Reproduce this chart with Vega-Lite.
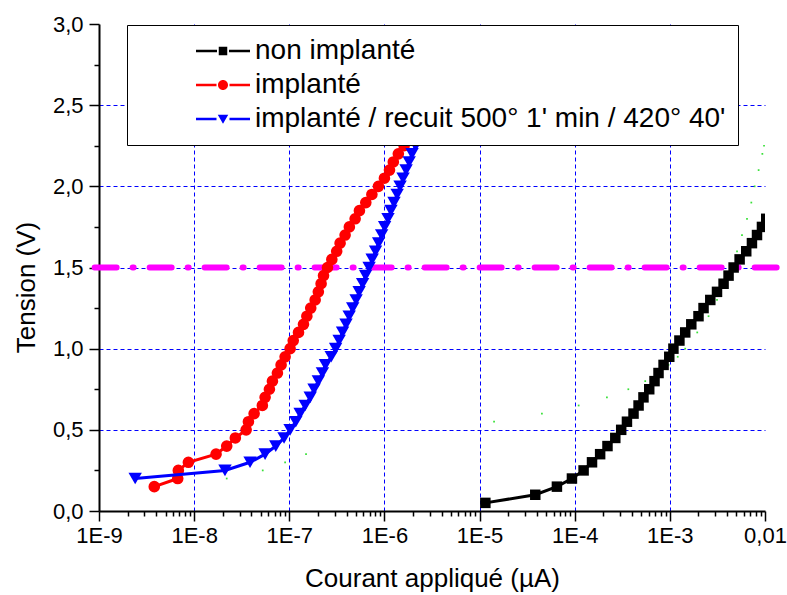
{
  "$schema": "https://vega.github.io/schema/vega-lite/v6.json",
  "autosize": {"type": "none"},
  "padding": {"left": 99, "top": 24, "right": 22, "bottom": 84},
  "width": 666,
  "height": 487,
  "background": "white",
  "config": {"font": "Liberation Sans", "view": {"stroke": null}},
  "datasets": {
    "main": [
      {"s": "non implanté", "x": 1.15e-5, "y": 0.05},
      {"s": "non implanté", "x": 3.85e-5, "y": 0.10},
      {"s": "non implanté", "x": 6.5e-5, "y": 0.15},
      {"s": "non implanté", "x": 9.35e-5, "y": 0.20},
      {"s": "non implanté", "x": 1.24e-4, "y": 0.25},
      {"s": "non implanté", "x": 1.52e-4, "y": 0.30},
      {"s": "non implanté", "x": 1.85e-4, "y": 0.35},
      {"s": "non implanté", "x": 2.21e-4, "y": 0.40},
      {"s": "non implanté", "x": 2.67e-4, "y": 0.45},
      {"s": "non implanté", "x": 3.08e-4, "y": 0.50},
      {"s": "non implanté", "x": 3.54e-4, "y": 0.55},
      {"s": "non implanté", "x": 4.15e-4, "y": 0.60},
      {"s": "non implanté", "x": 4.69e-4, "y": 0.65},
      {"s": "non implanté", "x": 5.28e-4, "y": 0.70},
      {"s": "non implanté", "x": 6.07e-4, "y": 0.75},
      {"s": "non implanté", "x": 6.90e-4, "y": 0.80},
      {"s": "non implanté", "x": 7.60e-4, "y": 0.85},
      {"s": "non implanté", "x": 8.59e-4, "y": 0.90},
      {"s": "non implanté", "x": 9.86e-4, "y": 0.95},
      {"s": "non implanté", "x": 1.09e-3, "y": 1.00},
      {"s": "non implanté", "x": 1.26e-3, "y": 1.05},
      {"s": "non implanté", "x": 1.45e-3, "y": 1.10},
      {"s": "non implanté", "x": 1.68e-3, "y": 1.15},
      {"s": "non implanté", "x": 2.00e-3, "y": 1.20},
      {"s": "non implanté", "x": 2.26e-3, "y": 1.25},
      {"s": "non implanté", "x": 2.66e-3, "y": 1.30},
      {"s": "non implanté", "x": 3.13e-3, "y": 1.35},
      {"s": "non implanté", "x": 3.67e-3, "y": 1.40},
      {"s": "non implanté", "x": 4.14e-3, "y": 1.45},
      {"s": "non implanté", "x": 4.68e-3, "y": 1.50},
      {"s": "non implanté", "x": 5.41e-3, "y": 1.55},
      {"s": "non implanté", "x": 6.35e-3, "y": 1.60},
      {"s": "non implanté", "x": 7.29e-3, "y": 1.65},
      {"s": "non implanté", "x": 8.24e-3, "y": 1.70},
      {"s": "non implanté", "x": 9.29e-3, "y": 1.75},
      {"s": "non implanté", "x": 1.03e-2, "y": 1.80},
      {"s": "implanté", "x": 3.81e-9, "y": 0.15},
      {"s": "implanté", "x": 6.72e-9, "y": 0.20},
      {"s": "implanté", "x": 6.82e-9, "y": 0.25},
      {"s": "implanté", "x": 8.7e-9, "y": 0.30},
      {"s": "implanté", "x": 1.70e-8, "y": 0.35},
      {"s": "implanté", "x": 2.20e-8, "y": 0.40},
      {"s": "implanté", "x": 2.71e-8, "y": 0.45},
      {"s": "implanté", "x": 3.52e-8, "y": 0.50},
      {"s": "implanté", "x": 3.72e-8, "y": 0.55},
      {"s": "implanté", "x": 4.27e-8, "y": 0.60},
      {"s": "implanté", "x": 5.21e-8, "y": 0.65},
      {"s": "implanté", "x": 5.57e-8, "y": 0.70},
      {"s": "implanté", "x": 6.18e-8, "y": 0.75},
      {"s": "implanté", "x": 6.65e-8, "y": 0.80},
      {"s": "implanté", "x": 7.50e-8, "y": 0.85},
      {"s": "implanté", "x": 8.20e-8, "y": 0.90},
      {"s": "implanté", "x": 9.04e-8, "y": 0.95},
      {"s": "implanté", "x": 1.02e-7, "y": 1.00},
      {"s": "implanté", "x": 1.10e-7, "y": 1.05},
      {"s": "implanté", "x": 1.25e-7, "y": 1.10},
      {"s": "implanté", "x": 1.41e-7, "y": 1.15},
      {"s": "implanté", "x": 1.53e-7, "y": 1.20},
      {"s": "implanté", "x": 1.68e-7, "y": 1.25},
      {"s": "implanté", "x": 1.87e-7, "y": 1.30},
      {"s": "implanté", "x": 2.02e-7, "y": 1.35},
      {"s": "implanté", "x": 2.16e-7, "y": 1.40},
      {"s": "implanté", "x": 2.29e-7, "y": 1.45},
      {"s": "implanté", "x": 2.52e-7, "y": 1.50},
      {"s": "implanté", "x": 2.80e-7, "y": 1.55},
      {"s": "implanté", "x": 3.15e-7, "y": 1.60},
      {"s": "implanté", "x": 3.42e-7, "y": 1.65},
      {"s": "implanté", "x": 3.86e-7, "y": 1.70},
      {"s": "implanté", "x": 4.28e-7, "y": 1.75},
      {"s": "implanté", "x": 4.92e-7, "y": 1.80},
      {"s": "implanté", "x": 5.46e-7, "y": 1.85},
      {"s": "implanté", "x": 6.37e-7, "y": 1.90},
      {"s": "implanté", "x": 7.38e-7, "y": 1.95},
      {"s": "implanté", "x": 8.65e-7, "y": 2.00},
      {"s": "implanté", "x": 1.0e-6, "y": 2.05},
      {"s": "implanté", "x": 1.13e-6, "y": 2.10},
      {"s": "implanté", "x": 1.24e-6, "y": 2.15},
      {"s": "implanté", "x": 1.40e-6, "y": 2.20},
      {"s": "implanté", "x": 1.61e-6, "y": 2.25},
      {"s": "implanté", "x": 1.80e-6, "y": 2.30},
      {"s": "implanté", "x": 2.05e-6, "y": 2.35},
      {"s": "implanté / recuit 500° 1' min / 420° 40'", "x": 2.40e-9, "y": 0.20},
      {"s": "implanté / recuit 500° 1' min / 420° 40'", "x": 2.11e-8, "y": 0.25},
      {"s": "implanté / recuit 500° 1' min / 420° 40'", "x": 3.87e-8, "y": 0.30},
      {"s": "implanté / recuit 500° 1' min / 420° 40'", "x": 5.57e-8, "y": 0.35},
      {"s": "implanté / recuit 500° 1' min / 420° 40'", "x": 7.21e-8, "y": 0.40},
      {"s": "implanté / recuit 500° 1' min / 420° 40'", "x": 8.81e-8, "y": 0.45},
      {"s": "implanté / recuit 500° 1' min / 420° 40'", "x": 1.02e-7, "y": 0.50},
      {"s": "implanté / recuit 500° 1' min / 420° 40'", "x": 1.17e-7, "y": 0.55},
      {"s": "implanté / recuit 500° 1' min / 420° 40'", "x": 1.30e-7, "y": 0.60},
      {"s": "implanté / recuit 500° 1' min / 420° 40'", "x": 1.47e-7, "y": 0.65},
      {"s": "implanté / recuit 500° 1' min / 420° 40'", "x": 1.66e-7, "y": 0.70},
      {"s": "implanté / recuit 500° 1' min / 420° 40'", "x": 1.82e-7, "y": 0.75},
      {"s": "implanté / recuit 500° 1' min / 420° 40'", "x": 2.02e-7, "y": 0.80},
      {"s": "implanté / recuit 500° 1' min / 420° 40'", "x": 2.23e-7, "y": 0.85},
      {"s": "implanté / recuit 500° 1' min / 420° 40'", "x": 2.40e-7, "y": 0.90},
      {"s": "implanté / recuit 500° 1' min / 420° 40'", "x": 2.76e-7, "y": 0.95},
      {"s": "implanté / recuit 500° 1' min / 420° 40'", "x": 3.07e-7, "y": 1.00},
      {"s": "implanté / recuit 500° 1' min / 420° 40'", "x": 3.34e-7, "y": 1.05},
      {"s": "implanté / recuit 500° 1' min / 420° 40'", "x": 3.63e-7, "y": 1.10},
      {"s": "implanté / recuit 500° 1' min / 420° 40'", "x": 3.95e-7, "y": 1.15},
      {"s": "implanté / recuit 500° 1' min / 420° 40'", "x": 4.26e-7, "y": 1.20},
      {"s": "implanté / recuit 500° 1' min / 420° 40'", "x": 4.64e-7, "y": 1.25},
      {"s": "implanté / recuit 500° 1' min / 420° 40'", "x": 5.04e-7, "y": 1.30},
      {"s": "implanté / recuit 500° 1' min / 420° 40'", "x": 5.42e-7, "y": 1.35},
      {"s": "implanté / recuit 500° 1' min / 420° 40'", "x": 5.90e-7, "y": 1.40},
      {"s": "implanté / recuit 500° 1' min / 420° 40'", "x": 6.34e-7, "y": 1.45},
      {"s": "implanté / recuit 500° 1' min / 420° 40'", "x": 6.90e-7, "y": 1.50},
      {"s": "implanté / recuit 500° 1' min / 420° 40'", "x": 7.43e-7, "y": 1.55},
      {"s": "implanté / recuit 500° 1' min / 420° 40'", "x": 8.07e-7, "y": 1.60},
      {"s": "implanté / recuit 500° 1' min / 420° 40'", "x": 8.69e-7, "y": 1.65},
      {"s": "implanté / recuit 500° 1' min / 420° 40'", "x": 9.35e-7, "y": 1.70},
      {"s": "implanté / recuit 500° 1' min / 420° 40'", "x": 1.005e-6, "y": 1.75},
      {"s": "implanté / recuit 500° 1' min / 420° 40'", "x": 1.09e-6, "y": 1.80},
      {"s": "implanté / recuit 500° 1' min / 420° 40'", "x": 1.17e-6, "y": 1.85},
      {"s": "implanté / recuit 500° 1' min / 420° 40'", "x": 1.26e-6, "y": 1.90},
      {"s": "implanté / recuit 500° 1' min / 420° 40'", "x": 1.36e-6, "y": 1.95},
      {"s": "implanté / recuit 500° 1' min / 420° 40'", "x": 1.46e-6, "y": 2.00},
      {"s": "implanté / recuit 500° 1' min / 420° 40'", "x": 1.57e-6, "y": 2.05},
      {"s": "implanté / recuit 500° 1' min / 420° 40'", "x": 1.69e-6, "y": 2.10},
      {"s": "implanté / recuit 500° 1' min / 420° 40'", "x": 1.82e-6, "y": 2.15},
      {"s": "implanté / recuit 500° 1' min / 420° 40'", "x": 1.95e-6, "y": 2.20},
      {"s": "implanté / recuit 500° 1' min / 420° 40'", "x": 2.13e-6, "y": 2.25},
      {"s": "implanté / recuit 500° 1' min / 420° 40'", "x": 2.32e-6, "y": 2.30}
    ],
    "green": [
      {"x": 2.2e-8, "y": 0.20}, {"x": 5.26e-8, "y": 0.25}, {"x": 9.04e-8, "y": 0.30}, {"x": 1.50e-7, "y": 0.35},
      {"x": 1.42e-5, "y": 0.55}, {"x": 4.52e-5, "y": 0.60}, {"x": 1.10e-4, "y": 0.65}, {"x": 2.18e-4, "y": 0.70},
      {"x": 3.66e-4, "y": 0.75}, {"x": 5.51e-4, "y": 0.80}, {"x": 7.60e-4, "y": 0.85}, {"x": 9.68e-4, "y": 0.90},
      {"x": 1.21e-3, "y": 0.95}, {"x": 1.45e-3, "y": 1.00}, {"x": 1.94e-3, "y": 1.10}, {"x": 2.55e-3, "y": 1.20},
      {"x": 3.13e-3, "y": 1.30}, {"x": 3.73e-3, "y": 1.40}, {"x": 4.32e-3, "y": 1.50}, {"x": 5.08e-3, "y": 1.60},
      {"x": 5.73e-3, "y": 1.70}, {"x": 6.47e-3, "y": 1.80}, {"x": 7.18e-3, "y": 1.90}, {"x": 7.78e-3, "y": 2.00},
      {"x": 8.57e-3, "y": 2.10}, {"x": 9.38e-3, "y": 2.20}, {"x": 9.77e-3, "y": 2.25}
    ],
    "ref": [{"x0": 9e-10, "x1": 0.014, "v": 1.5}]
  },
  "encoding": {
    "x": {
      "field": "x", "type": "quantitative",
      "scale": {"type": "log", "domain": [1e-9, 0.01], "nice": false},
      "axis": {
        "values": [1e-9,2e-9,3e-9,4e-9,5e-9,6e-9,7e-9,8e-9,9e-9,1e-8,2e-8,3e-8,4e-8,5e-8,6e-8,7e-8,8e-8,9e-8,1e-7,2e-7,3e-7,4e-7,5e-7,6e-7,7e-7,8e-7,9e-7,1e-6,2e-6,3e-6,4e-6,5e-6,6e-6,7e-6,8e-6,9e-6,1e-5,2e-5,3e-5,4e-5,5e-5,6e-5,7e-5,8e-5,9e-5,1e-4,2e-4,3e-4,4e-4,5e-4,6e-4,7e-4,8e-4,9e-4,1e-3,2e-3,3e-3,4e-3,5e-3,6e-3,7e-3,8e-3,9e-3,1e-2],
        "labelExpr": "abs(log(datum.value)/LN10 - round(log(datum.value)/LN10)) < 0.01 ? (datum.value > 0.005 ? '0,01' : '1E' + round(log(datum.value)/LN10)) : ''",
        "labelOverlap": false,
        "labelFlush": false,
        "labelFontSize": 22,
        "labelColor": "black",
        "labelPadding": 4,
        "tickSize": {"condition": {"test": "abs(log(datum.value)/LN10 - round(log(datum.value)/LN10)) < 0.01", "value": 10}, "value": 5},
        "tickColor": "black",
        "tickWidth": 1.5,
        "domainColor": "black",
        "domainWidth": 2,
        "grid": true,
        "gridColor": "#0000ff",
        "gridDash": [4, 3],
        "gridWidth": 1,
        "gridOpacity": {"condition": {"test": "abs(log(datum.value)/LN10 - round(log(datum.value)/LN10)) < 0.01 && datum.value > 2e-9 && datum.value < 0.005", "value": 1}, "value": 0},
        "title": "Courant appliqué (µA)",
        "titleFontSize": 26,
        "titleFontWeight": "normal",
        "titleColor": "black",
        "titleBaseline": "alphabetic",
        "titleY": 75
      }
    },
    "y": {
      "field": "y", "type": "quantitative",
      "scale": {"domain": [0, 3], "nice": false},
      "axis": {
        "values": [0,0.25,0.5,0.75,1,1.25,1.5,1.75,2,2.25,2.5,2.75,3],
        "labelExpr": "abs(datum.value*2 - round(datum.value*2)) < 0.01 ? replace(format(datum.value, '.1f'), '.', ',') : ''",
        "labelOverlap": false,
        "labelFontSize": 22,
        "labelColor": "black",
        "labelPadding": 6,
        "tickSize": {"condition": {"test": "abs(datum.value*2 - round(datum.value*2)) < 0.01", "value": 10}, "value": 5},
        "tickColor": "black",
        "tickWidth": 1.5,
        "domainColor": "black",
        "domainWidth": 2,
        "grid": true,
        "gridColor": "#0000ff",
        "gridDash": [4, 3],
        "gridWidth": 1,
        "gridOpacity": {"condition": {"test": "abs(datum.value*2 - round(datum.value*2)) < 0.01 && datum.value > 0.1 && datum.value < 2.9", "value": 1}, "value": 0},
        "title": "Tension (V)",
        "titleFontSize": 26,
        "titleFontWeight": "normal",
        "titleColor": "black",
        "titleBaseline": "alphabetic",
        "titleX": -65,
        "titleY": 263
      }
    }
  },
  "layer": [
    {
      "data": {"name": "ref"},
      "mark": {"type": "rule", "color": "#ff00ff", "strokeWidth": 6, "strokeDash": [22, 16, 1, 16], "strokeCap": "round", "clip": false},
      "encoding": {
        "x": {"field": "x0", "type": "quantitative"},
        "x2": {"field": "x1"},
        "y": {"field": "v", "type": "quantitative"}
      }
    },
    {
      "data": {"name": "green"},
      "mark": {"type": "point", "filled": true, "shape": "square", "size": 3, "color": "#22dd22", "opacity": 0.9, "clip": true},
      "encoding": {}
    },
    {
      "data": {"name": "main"},
      "transform": [{"filter": {"field": "s", "equal": "non implanté"}}],
      "mark": {"type": "line", "strokeWidth": 3, "color": "#000000", "clip": true},
      "encoding": {}
    },
    {
      "data": {"name": "main"},
      "transform": [{"filter": {"field": "s", "equal": "non implanté"}}],
      "mark": {"type": "point", "filled": true, "opacity": 1, "shape": "square", "size": 110, "color": "#000000", "clip": true},
      "encoding": {}
    },
    {
      "data": {"name": "main"},
      "transform": [{"filter": {"field": "s", "equal": "implanté"}}],
      "mark": {"type": "line", "strokeWidth": 3, "color": "#ff0000", "clip": true},
      "encoding": {}
    },
    {
      "data": {"name": "main"},
      "transform": [{"filter": {"field": "s", "equal": "implanté"}}],
      "mark": {"type": "point", "filled": true, "opacity": 1, "shape": "circle", "size": 135, "color": "#ff0000", "clip": true},
      "encoding": {}
    },
    {
      "data": {"name": "main"},
      "transform": [{"filter": {"field": "s", "equal": "implanté / recuit 500° 1' min / 420° 40'"}}],
      "mark": {"type": "line", "strokeWidth": 3, "color": "#0000ff", "clip": true},
      "encoding": {}
    },
    {
      "data": {"name": "main"},
      "transform": [{"filter": {"field": "s", "equal": "implanté / recuit 500° 1' min / 420° 40'"}}],
      "mark": {"type": "point", "filled": true, "opacity": 1, "shape": "triangle-down", "size": 180, "color": "#0000ff", "clip": true},
      "encoding": {}
    },
    {
      "data": {"name": "main"},
      "mark": {"type": "point", "filled": true, "opacity": 0, "size": 100, "clip": true},
      "encoding": {
        "color": {
          "field": "s", "type": "nominal",
          "scale": {"domain": ["non implanté", "implanté", "implanté / recuit 500° 1' min / 420° 40'"], "range": ["#000000", "#ff0000", "#0000ff"]},
          "legend": {
            "title": null,
            "orient": "none",
            "legendX": 28,
            "legendY": 1,
            "fillColor": "white",
            "strokeColor": "black",
            "padding": 12,
            "labelFontSize": 28,
            "labelColor": "black",
            "labelLimit": 1000,
            "symbolSize": 100,
            "symbolOpacity": 1,
            "symbolStrokeWidth": 0,
            "symbolOffset": 70,
            "labelOffset": 18,
            "rowPadding": 6
          }
        },
        "shape": {
          "field": "s", "type": "nominal",
          "scale": {"domain": ["non implanté", "implanté", "implanté / recuit 500° 1' min / 420° 40'"], "range": [
            "M-5.4,-0.25H-1.2V0.25H-5.4Z M1.2,-0.25H5.4V0.25H1.2Z M-0.85,-0.85H0.85V0.85H-0.85Z",
            "M-5.4,-0.25H-1.3V0.25H-5.4Z M1.3,-0.25H5.4V0.25H1.3Z M1,0A1,1,0,1,1,-1,0A1,1,0,1,1,1,0Z",
            "M-5.4,-0.25H-1.3V0.25H-5.4Z M1.3,-0.25H5.4V0.25H1.3Z M-1.05,-0.85L1.05,-0.85L0,0.95Z"
          ]},
          "legend": {
            "title": null,
            "orient": "none",
            "legendX": 28,
            "legendY": 1,
            "fillColor": "white",
            "strokeColor": "black",
            "padding": 12,
            "labelFontSize": 28,
            "labelColor": "black",
            "labelLimit": 1000,
            "symbolSize": 100,
            "symbolOpacity": 1,
            "symbolStrokeWidth": 0,
            "symbolOffset": 70,
            "labelOffset": 18,
            "rowPadding": 6
          }
        }
      }
    }
  ]
}
